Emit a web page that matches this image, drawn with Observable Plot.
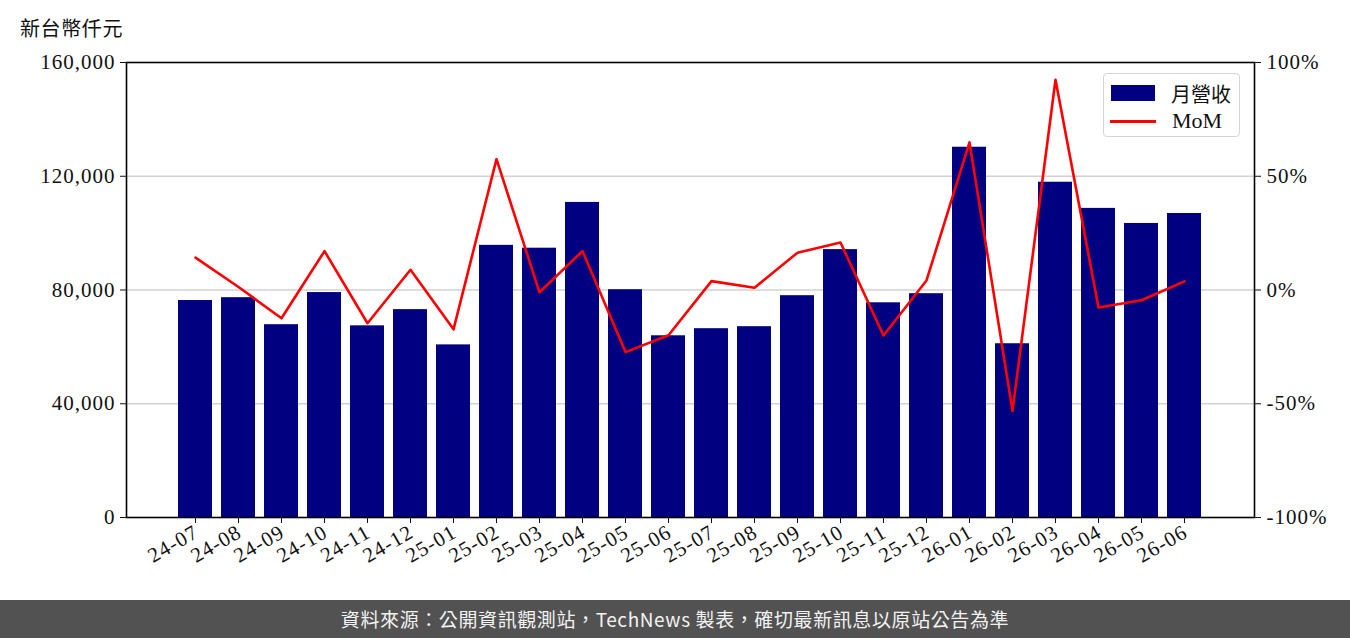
<!DOCTYPE html>
<html><head><meta charset="utf-8">
<script src="https://cdn.jsdelivr.net/npm/d3@7"></script>
<script src="https://cdn.jsdelivr.net/npm/@observablehq/plot@0.6"></script>
<style>
html,body{margin:0;padding:0;background:#fff;}
body{width:1350px;height:638px;overflow:hidden;position:relative;font-family:"Liberation Serif",serif;}
#title{position:absolute;left:20px;top:13px;font-size:20px;letter-spacing:0.6px;font-family:"Noto Sans CJK TC","Noto Sans CJK SC",sans-serif;color:#111;}
#chart{position:absolute;left:0;top:40px;}
#chart svg text{letter-spacing:1px;}
#legend{position:absolute;left:1103px;top:73px;width:137px;height:64px;box-sizing:border-box;border:1.5px solid #d4d4d4;border-radius:4px;background:rgba(255,255,255,0.85);}
.lg-row{position:absolute;left:0;display:flex;align-items:center;}
.sw-bar{width:44px;height:16px;background:#000080;margin-left:7px;}
.sw-line{width:46px;height:3px;background:#ff0000;margin-left:6px;}
.lg-txt{margin-left:16px;font-size:22px;color:#111;}
.cjk{font-family:"Noto Sans CJK TC","Noto Sans CJK SC",sans-serif;font-size:20px;}
#footer{position:absolute;left:0;top:600px;width:1350px;height:38px;background:#525252;color:#f2f2f2;font-family:"Noto Sans CJK TC","Noto Sans CJK SC",sans-serif;font-size:19px;letter-spacing:0.6px;line-height:38px;text-align:center;}
</style></head><body>
<div id="title">新台幣仟元</div>
<div id="chart"></div>
<div id="legend">
  <div class="lg-row" style="top:4px;height:30px;"><div class="sw-bar"></div><div class="lg-txt cjk">月營收</div></div>
  <div class="lg-row" style="top:32px;height:30px;"><div class="sw-line"></div><div class="lg-txt">MoM</div></div>
</div>
<div id="footer">資料來源：公開資訊觀測站，TechNews 製表，確切最新訊息以原站公告為準</div>
<script>
const months = ["24-07","24-08","24-09","24-10","24-11","24-12","25-01","25-02","25-03","25-04","25-05","25-06",
                "25-07","25-08","25-09","25-10","25-11","25-12","26-01","26-02","26-03","26-04","26-05","26-06"];
const revenue = [76300, 77300, 67800, 79100, 67400, 73100, 60700, 95700, 94700, 110800, 80100, 63900,
                 66400, 67100, 78000, 94200, 75500, 78700, 130200, 61100, 117900, 108700, 103400, 106900];
const mom = [14.2, 1.3, -12.4, 17.1, -14.6, 8.9, -17.3, 57.5, -1.0, 17.1, -27.3, -19.9,
             3.9, 1.0, 16.4, 20.9, -20.0, 4.2, 64.9, -53.1, 92.4, -7.7, -4.5, 3.8];
const yTicks = [0, 40000, 80000, 120000, 160000];
const pctTicks = [-100, -50, 0, 50, 100];

const data = months.map((m, i) => ({month: m, rev: revenue[i], mom: mom[i]}));
// right axis: -100%..100% shares the frame with 0..160,000
const pctToY = p => 80000 * (1 + p / 100);

const chart = Plot.plot({
  width: 1350,
  height: 560,
  marginTop: 22,
  marginBottom: 83,
  marginLeft: 126,
  marginRight: 96,
  style: {fontFamily: "'Liberation Serif', serif", fontSize: "21px", color: "#111", background: "transparent"},
  x: {type: "band", domain: months, paddingInner: 0.2, paddingOuter: 1.2, label: null},
  y: {domain: [0, 160000], label: null},
  marks: [
    Plot.gridY(yTicks.slice(1, -1), {stroke: "#d2d2d2", strokeOpacity: 1, strokeWidth: 1.5}),
    Plot.barY(data, {x: "month", y: "rev", fill: "#000080"}),
    Plot.line(data, {x: "month", y: d => pctToY(d.mom), stroke: "#ff0000", strokeWidth: 2.6}),
    Plot.frame({stroke: "#000", strokeWidth: 1.6}),
    Plot.axisY(yTicks, {anchor: "left", tickSize: 6, tickPadding: 5, tickFormat: d3.format(","), label: null}),
    Plot.axisY(pctTicks.map(pctToY), {anchor: "right", tickSize: 6, tickPadding: 6,
      tickFormat: v => Math.round((v / 80000 - 1) * 100) + "%", label: null}),
    Plot.axisX({tickSize: 6, tickFormat: () => "", label: null}),
    Plot.axisX({tickRotate: -30, tickSize: 0, tickPadding: 10, dy: 3, dx: 1, label: null})
  ]
});
document.getElementById("chart").appendChild(chart);
</script>
</body></html>
